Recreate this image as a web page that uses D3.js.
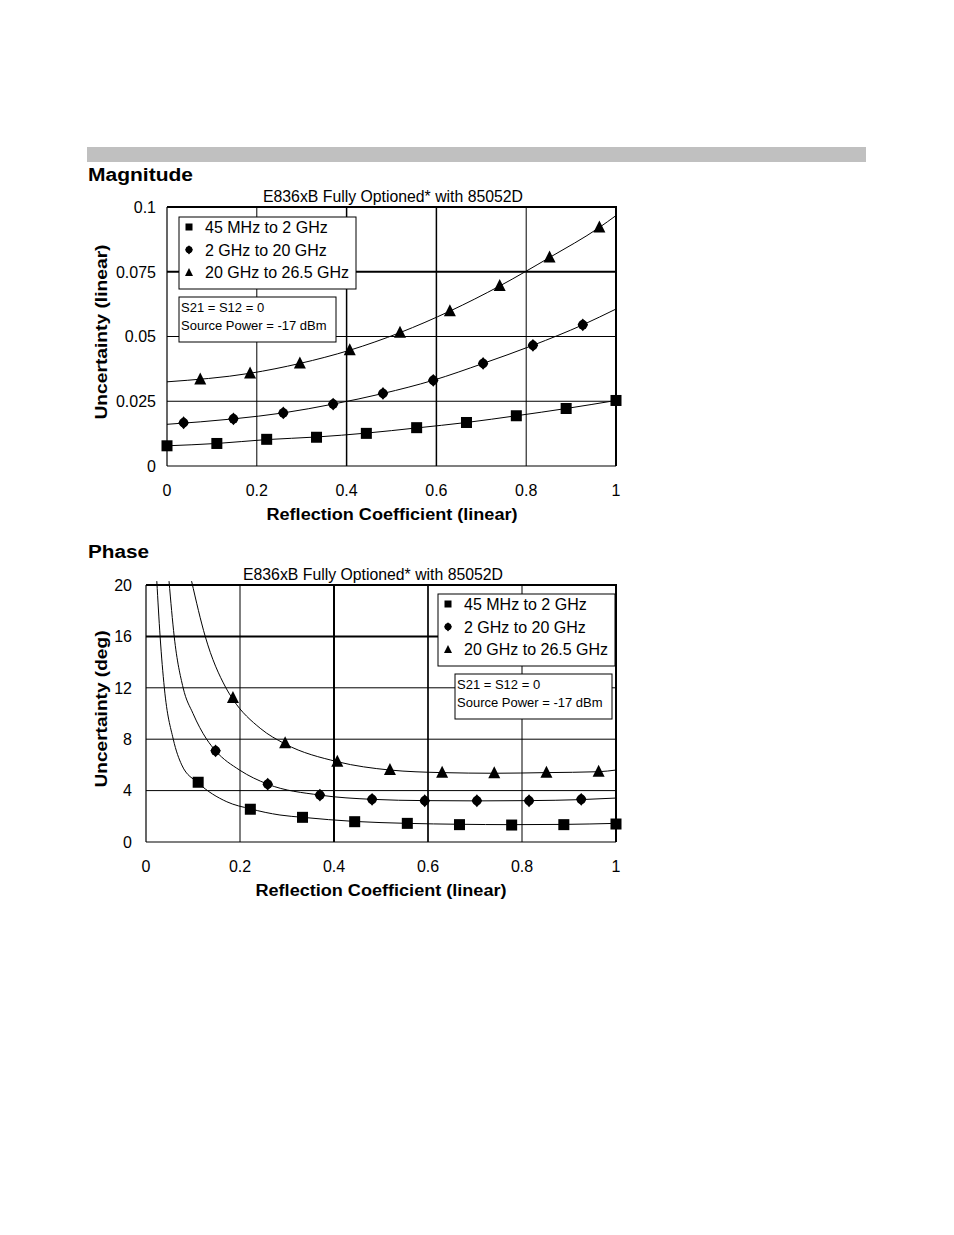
<!DOCTYPE html>
<html>
<head>
<meta charset="utf-8">
<script src="https://d3js.org/d3.v7.min.js"></script>
<style>
  body { margin: 0; background: #fff; }
  svg text { font-family: "Liberation Sans", Arial, sans-serif; fill: #000; }
  .bold { font-weight: bold; }
</style>
</head>
<body>
<svg width="954" height="1235"></svg>
<script>
// ---- data ----
const xTicks = [0, 0.2, 0.4, 0.6, 0.8, 1];
const magYTicks = [0, 0.025, 0.05, 0.075, 0.1];
const phaseYTicks = [0, 4, 8, 12, 16, 20];
const seriesNames = ["45 MHz to 2 GHz", "2 GHz to 20 GHz", "20 GHz to 26.5 GHz"];
const chartTitle = "E836xB Fully Optioned* with 85052D";
const noteLines = ["S21 = S12 = 0", "Source Power = -17 dBm"];

// magnitude markers
const magSqX = [0, 0.111, 0.222, 0.333, 0.444, 0.556, 0.667, 0.778, 0.889, 1.0];
const magSqY = [0.0078, 0.0087, 0.0103, 0.0111, 0.0126, 0.0148, 0.0168, 0.0194, 0.0222, 0.0253];
const magDiX = [0.037, 0.148, 0.259, 0.370, 0.481, 0.593, 0.704, 0.815, 0.926];
const magDiY = [0.0167, 0.0182, 0.0205, 0.0239, 0.0280, 0.0331, 0.0396, 0.0466, 0.0545];
const magTrX = [0.074, 0.185, 0.296, 0.407, 0.519, 0.630, 0.741, 0.852, 0.963];
const magTrY = [0.0334, 0.0357, 0.0396, 0.0447, 0.0515, 0.0598, 0.0695, 0.0805, 0.0921];
// magnitude fitted curves (x, y)
const magSqLine = [[0, 0.0078], [0.111, 0.0087], [0.222, 0.0102], [0.333, 0.0112], [0.444, 0.0127], [0.556, 0.0147], [0.667, 0.0168], [0.778, 0.0194], [0.889, 0.0222], [1.0, 0.0253]];
const magDiLine = [[0, 0.0161], [0.148, 0.0182], [0.259, 0.0205], [0.370, 0.0239], [0.481, 0.0280], [0.593, 0.0331], [0.704, 0.0396], [0.815, 0.0466], [0.926, 0.0545], [1.0, 0.0606]];
const magTrLine = [[0, 0.0325], [0.185, 0.0358], [0.296, 0.0396], [0.407, 0.0447], [0.519, 0.0515], [0.630, 0.0598], [0.741, 0.0695], [0.852, 0.0805], [0.963, 0.0921], [1.0, 0.0967]];

// phase markers
const phSqX = [0.111, 0.222, 0.333, 0.444, 0.556, 0.667, 0.778, 0.889, 1.0];
const phSqY = [4.65, 2.55, 1.92, 1.58, 1.45, 1.35, 1.32, 1.35, 1.4];
const phDiX = [0.148, 0.259, 0.370, 0.481, 0.593, 0.704, 0.815, 0.926];
const phDiY = [7.1, 4.5, 3.65, 3.32, 3.21, 3.21, 3.21, 3.32];
const phTrX = [0.185, 0.296, 0.407, 0.519, 0.630, 0.741, 0.852, 0.963];
const phTrY = [11.2, 7.68, 6.25, 5.6, 5.4, 5.35, 5.4, 5.47];
// phase fitted curves (x, y)
const phSqLine = [[0.023, 20.3], [0.030, 16], [0.039, 12], [0.058, 8], [0.076, 6.0], [0.111, 4.6], [0.172, 3.13], [0.222, 2.58], [0.285, 2.1], [0.333, 1.92], [0.444, 1.6], [0.556, 1.45], [0.667, 1.38], [0.778, 1.35], [0.889, 1.37], [1.0, 1.45]];
const phDiLine = [[0.049, 20.3], [0.060, 16], [0.079, 12], [0.100, 10], [0.129, 8], [0.148, 7.1], [0.199, 5.6], [0.259, 4.5], [0.370, 3.65], [0.481, 3.32], [0.593, 3.22], [0.704, 3.2], [0.815, 3.22], [0.926, 3.3], [1.0, 3.42]];
const phTrLine = [[0.097, 20.3], [0.126, 16], [0.170, 12], [0.185, 11.1], [0.243, 8.85], [0.296, 7.63], [0.407, 6.25], [0.519, 5.6], [0.630, 5.4], [0.741, 5.35], [0.852, 5.4], [0.963, 5.47], [1.0, 5.6]];

const svg = d3.select("svg");

// grey band at top
svg.append("rect")
  .attr("x", 87).attr("y", 147)
  .attr("width", 779).attr("height", 15)
  .attr("fill", "#c0c0c0");

function marker(g, kind, cx, cy, s) {
  if (kind == "square") {
    g.append("rect")
      .attr("x", cx - s / 2).attr("y", cy - s / 2)
      .attr("width", s).attr("height", s)
      .attr("fill", "#000");
  } else if (kind == "diamond") {
    const w = s * 0.48, h = s * 0.58;
    g.append("path")
      .attr("d", `M${cx},${cy - h}L${cx + w},${cy}L${cx},${cy + h}L${cx - w},${cy}Z`)
      .attr("fill", "#000");
    g.append("circle").attr("cx", cx).attr("cy", cy).attr("r", w * 0.9).attr("fill", "#000");
  } else {
    g.append("path")
      .attr("d", `M${cx},${cy - s * 0.58}L${cx + s / 2},${cy + s * 0.42}L${cx - s / 2},${cy + s * 0.42}Z`)
      .attr("fill", "#000");
  }
}

function drawPanel(o) {
  const g = svg.append("g");
  const x = d3.scaleLinear().domain([0, 1]).range([o.left, o.right]);
  const y = d3.scaleLinear().domain(o.yDomain).range([o.bottom, o.top]);

  // heading
  g.append("text").attr("class", "bold")
    .attr("x", 88).attr("y", o.headY)
    .attr("textLength", o.headLen).attr("lengthAdjust", "spacingAndGlyphs")
    .style("font-size", "18px")
    .text(o.heading);

  // title
  g.append("text")
    .attr("x", o.titleX).attr("y", o.top - 5)
    .attr("text-anchor", "middle")
    .attr("textLength", 260).attr("lengthAdjust", "spacingAndGlyphs")
    .style("font-size", "16px")
    .text(chartTitle);

  // grid
  xTicks.slice(1, -1).forEach(v => {
    g.append("line")
      .attr("x1", x(v)).attr("x2", x(v))
      .attr("y1", o.top).attr("y2", o.bottom)
      .attr("stroke", "#000")
      .attr("stroke-width", o.thickX[v] || 1);
  });
  o.yTicks.slice(1, -1).forEach(v => {
    g.append("line")
      .attr("x1", o.left).attr("x2", o.right)
      .attr("y1", y(v)).attr("y2", y(v))
      .attr("stroke", "#000")
      .attr("stroke-width", o.thickY[v] || 1);
  });

  // frame
  g.append("line").attr("x1", o.left).attr("x2", o.left).attr("y1", o.top).attr("y2", o.bottom).attr("stroke", "#000").attr("stroke-width", 1.2);
  g.append("line").attr("x1", o.left).attr("x2", o.right).attr("y1", o.bottom).attr("y2", o.bottom).attr("stroke", "#000").attr("stroke-width", 1.2);
  g.append("line").attr("x1", o.left).attr("x2", o.right + 1).attr("y1", o.top).attr("y2", o.top).attr("stroke", "#000").attr("stroke-width", 2);
  g.append("line").attr("x1", o.right).attr("x2", o.right).attr("y1", o.top).attr("y2", o.bottom).attr("stroke", "#000").attr("stroke-width", 2);

  // tick labels
  xTicks.forEach(v => {
    g.append("text")
      .attr("x", x(v)).attr("y", o.bottom + 30)
      .attr("text-anchor", "middle")
      .style("font-size", "16px")
      .text(String(v));
  });
  o.yTicks.forEach(v => {
    g.append("text")
      .attr("x", o.left - o.yTickGap).attr("y", y(v) + 5.8)
      .attr("text-anchor", "end")
      .style("font-size", "16px")
      .text(String(v));
  });

  // axis titles
  g.append("text").attr("class", "bold")
    .attr("transform", `translate(107,${o.yLabelMid}) rotate(-90)`)
    .attr("text-anchor", "middle")
    .attr("textLength", o.yLabelLen).attr("lengthAdjust", "spacingAndGlyphs")
    .style("font-size", "16px")
    .text(o.yLabel);
  g.append("text").attr("class", "bold")
    .attr("x", o.xLabelMid).attr("y", o.bottom + 54)
    .attr("text-anchor", "middle")
    .attr("textLength", 251).attr("lengthAdjust", "spacingAndGlyphs")
    .style("font-size", "16px")
    .text("Reflection Coefficient (linear)");

  // legend
  const lg = g.append("g");
  lg.append("rect")
    .attr("x", o.legX).attr("y", o.legY)
    .attr("width", 177).attr("height", 72)
    .attr("fill", "#fff").attr("stroke", "#000");
  const kinds = ["square", "diamond", "triangle"];
  const legSizes = [7, 8, 8];
  seriesNames.forEach((name, i) => {
    const cy = o.legY + 10 + i * 22.8;
    marker(lg, kinds[i], o.legX + 10, cy, legSizes[i]);
    lg.append("text")
      .attr("x", o.legX + 26).attr("y", cy + 5.8)
      .style("font-size", "16px")
      .text(name);
  });

  // note box
  lg.append("rect")
    .attr("x", o.noteX).attr("y", o.noteY)
    .attr("width", 157).attr("height", 45)
    .attr("fill", "#fff").attr("stroke", "#000");
  noteLines.forEach((t, i) => {
    lg.append("text")
      .attr("x", o.noteX + 2).attr("y", o.noteY + 15 + i * 18)
      .style("font-size", "13px")
      .text(t);
  });

  // curves
  const clipId = "clip" + o.heading;
  g.append("clipPath").attr("id", clipId)
    .append("rect")
    .attr("x", o.left - 8).attr("y", o.top - 4)
    .attr("width", o.right - o.left + 16).attr("height", o.bottom - o.top + 4);
  const line = d3.line()
    .x(d => x(d[0])).y(d => y(d[1]))
    .curve(d3.curveMonotoneX);
  o.lines.forEach(pts => {
    g.append("path")
      .datum(pts)
      .attr("d", line)
      .attr("clip-path", `url(#${clipId})`)
      .attr("fill", "none")
      .attr("stroke", "#000")
      .attr("stroke-width", 1);
  });

  // markers
  const sizes = [11, 11, 12];
  o.marks.forEach((m, i) => {
    m[0].forEach((xv, j) => marker(g, kinds[i], x(xv), y(m[1][j]), sizes[i]));
  });
}

drawPanel({
  heading: "Magnitude", headY: 181, headLen: 105,
  left: 167, right: 616, top: 207, bottom: 466,
  yDomain: [0, 0.1], yTicks: magYTicks, yTickGap: 11,
  titleX: 393,
  thickX: { 0.4: 1.5, 0.6: 1.5 }, thickY: { 0.075: 2 },
  yLabel: "Uncertainty (linear)", yLabelMid: 332, yLabelLen: 175,
  xLabelMid: 392,
  legX: 179, legY: 217, noteX: 179, noteY: 297,
  lines: [magSqLine, magDiLine, magTrLine],
  marks: [[magSqX, magSqY], [magDiX, magDiY], [magTrX, magTrY]]
});

drawPanel({
  heading: "Phase", headY: 558, headLen: 61,
  left: 146, right: 616, top: 585, bottom: 842,
  yDomain: [0, 20], yTicks: phaseYTicks, yTickGap: 14,
  titleX: 373,
  thickX: { 0.4: 2, 0.6: 1.7 }, thickY: { 16: 2 },
  yLabel: "Uncertainty (deg)", yLabelMid: 709, yLabelLen: 157,
  xLabelMid: 381,
  legX: 438, legY: 594, noteX: 455, noteY: 674,
  lines: [phSqLine, phDiLine, phTrLine],
  marks: [[phSqX, phSqY], [phDiX, phDiY], [phTrX, phTrY]]
});
</script>
</body>
</html>
